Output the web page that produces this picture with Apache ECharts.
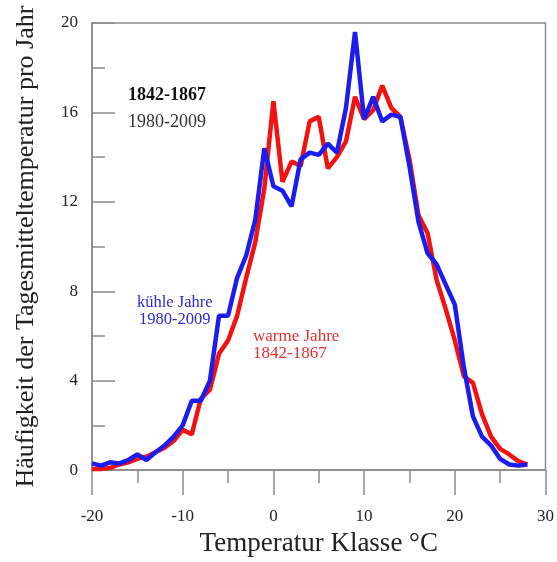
<!DOCTYPE html>
<html>
<head>
<meta charset="utf-8">
<script src="https://cdn.jsdelivr.net/npm/echarts@6/dist/echarts.min.js"></script>
<style>
html,body{margin:0;padding:0;background:#fff;}
#chart{width:557px;height:562px;}
</style>
</head>
<body>
<div id="chart"></div>
<script>
// Temperature classes (°C)
const temperatures = [-20,-19,-18,-17,-16,-15,-14,-13,-12,-11,-10,-9,-8,-7,-6,-5,-4,-3,-2,-1,0,1,2,3,4,5,6,7,8,9,10,11,12,13,14,15,16,17,18,19,20,21,22,23,24,25,26,27,28];
// warme Jahre 1842-1867 (red)
const warmYears = [0.05,0.05,0.1,0.25,0.35,0.5,0.6,0.8,1.0,1.3,1.8,1.6,3.2,3.6,5.2,5.8,6.9,8.6,10.2,12.6,16.5,12.9,13.8,13.6,15.6,15.8,13.5,14.0,14.7,16.7,15.7,16.1,17.2,16.2,15.8,13.9,11.4,10.6,8.5,7.2,5.8,4.2,3.9,2.5,1.5,0.95,0.7,0.4,0.25];
// kühle Jahre 1980-2009 (blue)
const coolYears = [0.3,0.2,0.35,0.3,0.45,0.7,0.45,0.8,1.1,1.5,2.0,3.1,3.1,4.0,6.9,6.9,8.6,9.6,11.2,14.4,12.7,12.5,11.8,13.9,14.2,14.1,14.6,14.2,16.2,19.6,15.7,16.7,15.6,15.9,15.8,13.6,11.1,9.7,9.2,8.3,7.4,4.6,2.4,1.5,1.1,0.5,0.25,0.2,0.25];

const xTicks = [-20,-10,0,10,20,30];
const yTicks = [0,4,8,12,16,20];

const serif = '"Liberation Serif","DejaVu Serif",serif';
const chart = echarts.init(document.getElementById('chart'), null, {renderer:'canvas'});

chart.setOption({
  backgroundColor:'#fff',
  animation:false,
  grid:{left:92,right:10,top:23,bottom:87,show:true,borderColor:'#8a8a8a',borderWidth:1.5,backgroundColor:'transparent'},
  xAxis:{
    type:'value',min:xTicks[0],max:xTicks[xTicks.length-1],interval:10,
    name:'Temperatur Klasse °C',nameLocation:'middle',nameGap:59,
    nameTextStyle:{fontFamily:serif,fontSize:27,color:'#222'},
    axisLine:{show:true,onZero:false,lineStyle:{color:'#8a8a8a',width:1.5}},
    axisTick:{show:true,inside:false,length:25,lineStyle:{color:'#8a8a8a',width:1.5}},
    minorTick:{show:true,splitNumber:2,length:13,lineStyle:{color:'#8a8a8a',width:1.5}},
    splitLine:{show:false},
    axisLabel:{fontFamily:serif,fontSize:17,color:'#222',margin:38}
  },
  yAxis:{
    type:'value',min:yTicks[0],max:yTicks[yTicks.length-1],interval:4,
    name:'Häufigkeit der Tagesmitteltemperatur pro Jahr',nameLocation:'middle',nameGap:53,
    nameTextStyle:{fontFamily:serif,fontSize:26,color:'#222'},
    axisLine:{show:true,onZero:false,lineStyle:{color:'#8a8a8a',width:1.5}},
    axisTick:{show:true,inside:true,length:23,lineStyle:{color:'#8a8a8a',width:1.5}},
    minorTick:{show:true,splitNumber:2,length:13,lineStyle:{color:'#8a8a8a',width:1.5}},
    splitLine:{show:false},
    axisLabel:{fontFamily:serif,fontSize:17,color:'#222',margin:14}
  },
  series:[
    {type:'line',name:'warme Jahre 1842-1867',data:temperatures.map((t,i)=>[t,warmYears[i]]),
     showSymbol:false,lineStyle:{color:'#f21212',width:4.5},itemStyle:{color:'#f21212'},z:2},
    {type:'line',name:'kühle Jahre 1980-2009',data:temperatures.map((t,i)=>[t,coolYears[i]]),
     showSymbol:false,lineStyle:{color:'#1c1cee',width:4.5},itemStyle:{color:'#1c1cee'},z:3}
  ],
  graphic:[
    {type:'text',left:128,top:86,style:{text:'1842-1867',font:'bold 18px '+serif,fill:'#111'}},
    {type:'text',left:128,top:113,style:{text:'1980-2009',font:'18px '+serif,fill:'#333'}},
    {type:'text',left:137,top:294,style:{text:'kühle Jahre',font:'16.5px '+serif,fill:'#2a2ad8'}},
    {type:'text',left:139,top:311,style:{text:'1980-2009',font:'16.5px '+serif,fill:'#2a2ad8'}},
    {type:'text',left:253,top:328,style:{text:'warme Jahre',font:'17px '+serif,fill:'#e23030'}},
    {type:'text',left:253,top:345,style:{text:'1842-1867',font:'17px '+serif,fill:'#e23030'}}
  ]
});
</script>
</body>
</html>
